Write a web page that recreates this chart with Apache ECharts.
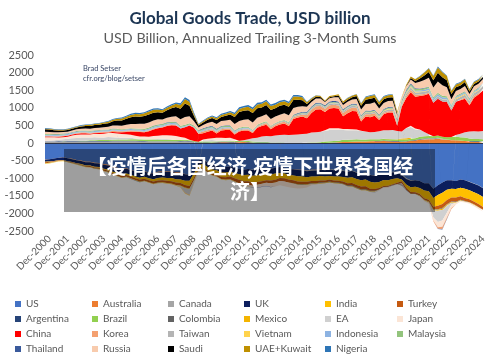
<!DOCTYPE html>
<html><head><meta charset="utf-8">
<script src="https://cdn.jsdelivr.net/npm/echarts@6/dist/echarts.min.js"></script>
<style>html,body{margin:0;padding:0;background:#fff}#c{width:500px;height:362px}</style>
</head><body><div id="c"></div>
<script>
// quarterly points: Sep-2000, Dec-2000, then Mar/Jun/Sep/Dec 2001..2024
const months = ['Mar','Jun','Sep','Dec'];
const quarters = ['Sep-2000','Dec-2000'];
for (let y = 2001; y <= 2024; y++) for (const m of months) quarters.push(m + '-' + y);

const yTicks = [-2500,-2000,-1500,-1000,-500,0,500,1000,1500,2000,2500];

const US = [-470,-460,
-440,-420,-400,-430,
-450,-480,-500,-530,
-530,-560,-570,-600,
-620,-680,-700,-740,
-720,-760,-800,-830,
-800,-840,-860,-820,
-800,-810,-800,-830,
-840,-880,-900,-720,
-480,-460,-540,-600,
-620,-680,-680,-660,
-700,-740,-760,-740,
-760,-740,-720,-700,
-720,-700,-680,-700,
-740,-740,-760,-760,
-780,-760,-760,-740,
-760,-740,-760,-760,
-780,-800,-780,-830,
-860,-840,-900,-920,
-880,-860,-860,-820,
-820,-880,-1000,-1060,
-1060,-1080,-1140,-1140,
-1300,-1200,-1120,-1060,
-1060,-1080,-1040,-1060,
-1100,-1150,-1200,-1280];

const Australia = [-5,-5,
0,0,-5,-5,
-10,-10,-10,-15,
-15,-15,-15,-20,
-20,-20,-15,-15,
-15,-10,-10,-10,
-10,-10,-10,-15,
-15,-15,-20,-20,
-15,-5,0,0,
-5,-5,0,5,
10,20,20,15,
15,20,25,15,
5,0,-5,-5,
-5,0,5,0,
0,-5,-5,-10,
-10,-10,-5,-5,
0,5,10,20,
30,30,35,40,
40,45,50,50,
50,55,50,45,
40,30,40,60,
70,90,100,110,
110,120,100,90,
80,80,70,60,
40,30,30,30];

const Canada = [45,45,
45,45,40,40,
40,40,35,35,
40,40,45,45,
45,50,50,50,
50,50,50,45,
45,40,40,40,
40,40,40,40,
45,50,40,20,
-5,-10,-10,-10,
-5,-5,-5,-5,
0,5,0,0,
-5,-5,-5,-5,
-5,-5,-5,-5,
0,0,0,-5,
-10,-15,-15,-15,
-15,-15,-15,-15,
-15,-15,-15,-15,
-15,-15,-10,-10,
-10,-10,-10,-10,
-10,-30,-20,-10,
0,10,15,15,
20,25,20,10,
5,0,0,0,
-5,-5,-5,-5];

const UK = [-60,-60,
-70,-70,-75,-80,
-80,-85,-90,-95,
-95,-100,-100,-110,
-115,-120,-130,-135,
-130,-135,-140,-145,
-150,-150,-160,-160,
-165,-170,-175,-180,
-180,-185,-175,-150,
-130,-125,-130,-140,
-150,-150,-155,-150,
-150,-145,-150,-160,
-165,-170,-165,-170,
-165,-160,-170,-165,
-165,-175,-180,-175,
-170,-165,-170,-175,
-180,-185,-180,-175,
-170,-175,-180,-175,
-180,-185,-190,-190,
-220,-180,-185,-190,
-170,-130,-160,-190,
-180,-200,-210,-230,
-260,-280,-290,-270,
-240,-230,-230,-240,
-240,-245,-250,-250];

const India = [-10,-10,
-10,-10,-10,-10,
-10,-10,-15,-15,
-15,-20,-20,-25,
-30,-35,-40,-45,
-45,-50,-50,-55,
-55,-60,-65,-70,
-75,-80,-90,-95,
-100,-120,-150,-120,
-100,-100,-110,-120,
-120,-130,-130,-140,
-150,-160,-180,-190,
-190,-190,-190,-180,
-170,-180,-140,-130,
-130,-140,-150,-150,
-130,-130,-130,-130,
-110,-100,-110,-120,
-130,-150,-160,-170,
-180,-190,-200,-190,
-170,-170,-160,-150,
-130,-50,-90,-130,
-160,-170,-220,-240,
-250,-300,-320,-290,
-250,-240,-240,-260,
-250,-260,-280,-280];

const Turkey = [-30,-25,
-15,-10,-10,-10,
-15,-15,-20,-20,
-25,-25,-30,-30,
-35,-40,-45,-45,
-45,-45,-50,-55,
-55,-55,-60,-60,
-60,-60,-65,-65,
-70,-75,-70,-60,
-40,-35,-35,-40,
-50,-60,-70,-75,
-90,-100,-105,-100,
-90,-80,-75,-70,
-75,-80,-85,-95,
-85,-80,-80,-80,
-70,-65,-60,-60,
-55,-55,-55,-55,
-60,-70,-75,-75,
-80,-85,-60,-50,
-40,-30,-25,-25,
-35,-50,-60,-50,
-40,-40,-40,-50,
-70,-100,-120,-120,
-110,-120,-100,-90,
-85,-80,-80,-80];

const Argentina = [5,5,
5,10,10,15,
15,15,15,15,
15,15,15,15,
12,12,12,12,
12,12,12,12,
12,12,12,12,
12,12,12,12,
12,15,15,15,
15,15,15,12,
12,12,12,12,
10,10,10,10,
12,12,12,12,
8,8,8,8,
5,5,5,5,
0,0,0,0,
0,2,2,2,
0,-2,-5,-5,
-5,-5,0,5,
10,15,15,15,
15,12,12,12,
12,15,15,12,
5,5,0,0,
-5,-5,-5,0,
15,20,20,20];

const Brazil = [-5,-5,
0,0,5,5,
10,10,15,15,
20,25,25,25,
30,33,35,35,
40,45,45,45,
45,45,45,45,
40,40,40,35,
25,25,20,20,
20,25,25,25,
20,20,20,20,
25,30,30,30,
25,20,20,20,
5,5,5,5,
0,-5,-5,-5,
5,15,15,20,
40,45,45,45,
60,65,65,65,
60,55,55,50,
45,45,45,45,
45,55,50,50,
50,60,60,60,
55,60,60,65,
85,95,95,95,
70,65,65,60];

const Colombia = [-2,-2,
-2,-2,-2,-2,
-2,-2,-2,-2,
-2,-2,-2,-2,
-2,-2,-2,-2,
-2,-2,-2,-2,
-2,-2,-2,-2,
-2,-2,-2,-2,
-2,-2,-2,-2,
0,0,0,0,
0,0,0,0,
0,0,0,0,
0,0,0,0,
0,0,0,0,
-5,-5,-5,-5,
-10,-10,-10,-10,
-10,-10,-10,-10,
-8,-8,-8,-8,
-8,-8,-10,-10,
-10,-10,-10,-10,
-8,-8,-8,-8,
-12,-12,-12,-12,
-15,-15,-15,-15,
-10,-10,-10,-10,
-8,-8,-8,-8];

const Mexico = [-10,-10,
-10,-10,-8,-8,
-8,-8,-8,-8,
-8,-8,-8,-8,
-8,-8,-8,-8,
-8,-8,-8,-8,
-8,-8,-8,-8,
-10,-10,-10,-10,
-15,-20,-20,-15,
-5,-5,-5,-5,
-5,-5,-5,-5,
-5,-5,-5,-5,
-2,-2,-2,-2,
-2,-2,-2,-2,
-5,-5,-5,-5,
-15,-15,-15,-15,
-15,-15,-15,-15,
-12,-12,-12,-12,
-15,-15,-15,-15,
0,5,5,5,
10,30,35,30,
0,-10,-15,-15,
-25,-30,-35,-30,
-20,-15,-15,-10,
-10,-10,-10,-10];

const EA = [10,20,
30,40,50,60,
70,80,90,90,
80,80,70,70,
80,70,60,50,
50,40,20,10,
0,0,10,20,
30,20,10,0,
-30,-120,-150,-60,
0,40,40,40,
30,20,20,30,
10,0,10,50,
90,120,150,170,
180,200,210,220,
220,230,240,250,
260,280,290,300,
300,320,310,300,
280,270,260,260,
240,230,200,210,
230,240,250,260,
230,200,280,300,
250,200,120,50,
-200,-320,-300,-200,
-50,50,100,150,
200,220,210,230];

const Japan = [100,90,
80,60,60,60,
80,90,90,90,
90,100,100,110,
120,120,110,110,
100,90,80,70,
80,80,90,90,
100,110,110,110,
90,60,20,-20,
-30,20,40,50,
80,80,70,70,
50,-40,-30,-40,
-60,-80,-80,-90,
-110,-110,-120,-130,
-130,-120,-100,-90,
-70,-30,-20,0,
20,50,50,50,
30,30,30,20,
10,0,-10,-20,
-20,-10,-20,-10,
-10,-40,10,40,
30,10,-20,-40,
-80,-150,-180,-130,
-100,-50,-30,-20,
-30,-40,-40,-30];

const China = [25,25,
20,25,30,25,
25,30,35,35,
20,25,30,35,
10,30,40,45,
60,90,110,130,
120,160,190,210,
220,260,290,300,
240,300,400,380,
220,180,200,220,
120,200,230,220,
130,260,280,250,
150,280,300,320,
200,260,300,320,
260,450,480,500,
440,560,650,640,
520,560,580,560,
360,450,520,520,
260,420,430,460,
320,460,500,500,
150,700,850,950,
900,950,1050,1150,
950,1050,1000,1000,
750,950,950,950,
750,950,1050,1150];

const Korea = [10,10,
10,10,10,10,
10,10,15,15,
15,15,20,20,
25,30,30,30,
25,25,25,25,
20,20,20,20,
15,15,15,15,
0,-10,-20,0,
30,45,45,40,
40,40,40,45,
30,30,30,35,
30,30,40,45,
45,45,45,50,
45,45,50,55,
90,90,90,90,
90,90,90,90,
90,100,100,95,
70,70,80,70,
40,40,40,40,
40,30,60,70,
60,40,30,30,
-20,-40,-60,-40,
-30,0,20,40,
40,50,40,50];

const Taiwan = [15,15,
15,15,15,15,
15,15,15,15,
15,15,15,15,
15,15,15,15,
20,20,20,20,
20,20,20,20,
20,20,20,20,
20,15,15,20,
25,25,25,25,
25,25,25,25,
25,25,25,25,
25,25,25,25,
30,30,30,30,
35,35,35,35,
40,40,40,40,
40,40,40,45,
45,45,45,45,
45,45,45,45,
45,45,45,50,
55,60,60,65,
65,65,65,65,
60,60,55,55,
65,70,70,75,
70,75,75,80];

const Vietnam = [-5,-5,
-5,-5,-5,-5,
-5,-5,-5,-5,
-5,-5,-5,-5,
-5,-5,-5,-5,
-5,-5,-5,-5,
-5,-5,-5,-5,
-10,-10,-10,-10,
-15,-15,-10,-10,
-10,-10,-10,-10,
-10,-10,-10,-10,
-5,-5,-5,-5,
0,0,0,0,
0,0,0,0,
0,0,0,0,
0,0,0,0,
5,10,10,10,
5,5,5,10,
10,10,10,10,
10,10,15,15,
15,20,25,25,
25,20,15,15,
10,10,10,15,
25,30,30,30,
25,25,25,25];

const Indonesia = [25,25,
25,25,25,25,
25,25,25,25,
25,25,25,25,
25,25,25,25,
25,25,25,25,
30,30,30,30,
30,30,30,30,
25,20,15,10,
15,20,20,20,
20,20,20,20,
25,25,25,20,
10,5,0,0,
0,0,0,0,
0,0,0,0,
5,5,10,10,
10,10,10,10,
10,10,10,10,
5,0,0,-5,
0,0,5,5,
10,15,20,25,
25,30,40,45,
50,55,55,50,
40,35,35,35,
30,30,30,30];

const Malaysia = [18,18,
18,18,18,18,
18,18,18,18,
20,20,20,20,
20,20,20,20,
25,25,25,25,
30,30,30,30,
30,30,30,30,
30,35,35,30,
30,30,30,30,
30,30,30,30,
28,28,28,28,
25,25,25,25,
22,22,22,22,
22,22,22,22,
22,22,22,22,
20,20,20,20,
22,22,22,22,
25,25,25,25,
30,30,30,30,
30,35,40,45,
45,45,45,45,
40,40,40,40,
30,30,30,30,
25,25,25,25];

const Thailand = [5,5,
5,5,5,5,
5,5,5,5,
5,5,5,5,
5,5,5,0,
-5,-5,-5,-5,
5,5,10,10,
10,10,10,10,
5,0,0,0,
15,20,20,20,
15,15,15,15,
10,5,0,0,
-5,-5,-5,-5,
-5,0,0,0,
10,15,20,20,
25,25,25,25,
30,30,30,30,
25,25,25,25,
20,20,20,20,
20,20,20,20,
25,30,30,25,
20,15,15,10,
0,-10,-15,-10,
0,5,5,5,
5,5,5,5];

const Russia = [60,55,
50,50,45,45,
45,50,50,55,
60,60,60,65,
75,85,95,100,
110,120,130,140,
140,140,145,150,
120,130,140,160,
180,220,200,120,
70,90,110,120,
140,140,140,160,
180,190,200,210,
210,200,190,200,
190,180,180,190,
190,190,180,160,
140,130,120,120,
90,90,100,120,
120,120,120,140,
170,190,200,210,
180,170,170,170,
120,80,90,110,
150,190,220,250,
280,320,300,260,
160,130,130,150,
120,120,110,110];

const Saudi = [70,70,
60,50,45,45,
50,55,60,70,
80,85,90,95,
100,120,140,150,
170,190,210,200,
220,230,220,200,
190,210,240,260,
300,380,300,150,
60,70,90,100,
110,120,130,150,
200,250,250,260,
270,270,250,260,
260,240,250,240,
240,230,200,170,
80,60,50,40,
20,30,30,50,
60,60,60,80,
100,120,140,130,
110,110,100,100,
50,-10,20,40,
60,90,130,160,
200,250,230,200,
150,110,100,110,
70,60,60,60];

const UAE = [20,20,
20,20,20,20,
20,20,25,25,
30,30,35,35,
40,45,50,55,
60,65,70,70,
75,80,80,75,
70,75,80,90,
110,130,110,60,
30,35,40,45,
50,55,60,65,
80,90,95,100,
110,110,100,110,
110,100,100,100,
100,100,90,80,
50,40,35,30,
25,30,30,35,
40,40,45,50,
60,70,80,80,
70,70,70,70,
50,20,30,40,
50,60,80,100,
120,150,140,120,
90,80,80,80,
60,55,55,55];

const Nigeria = [15,15,
15,15,15,15,
15,15,15,15,
15,15,15,20,
20,25,25,30,
30,35,35,35,
35,35,35,35,
35,35,35,40,
45,50,50,40,
20,25,25,30,
30,35,35,35,
40,45,45,45,
45,45,45,45,
45,45,45,45,
45,45,40,35,
15,10,10,5,
0,0,0,0,
5,10,10,10,
15,20,20,20,
20,20,20,15,
5,-5,-5,0,
5,10,10,15,
20,25,20,15,
15,15,15,15,
15,20,20,20];

const countries = [
  ['US', US, '#4472c4'],
  ['Australia', Australia, '#ed7d31'],
  ['Canada', Canada, '#a5a5a5'],
  ['UK', UK, '#0c1f5e'],
  ['India', India, '#ffc000'],
  ['Turkey', Turkey, '#c55a11'],
  ['Argentina', Argentina, '#264478'],
  ['Brazil', Brazil, '#92d050'],
  ['Colombia', Colombia, '#636363'],
  ['Mexico', Mexico, '#f4b400'],
  ['EA', EA, '#d0d0d0'],
  ['Japan', Japan, '#fbe5d6'],
  ['China', China, '#ff0000'],
  ['Korea', Korea, '#f4a070'],
  ['Taiwan', Taiwan, '#b4b4b4'],
  ['Vietnam', Vietnam, '#ffd34d'],
  ['Indonesia', Indonesia, '#8db3e2'],
  ['Malaysia', Malaysia, '#93c47d'],
  ['Thailand', Thailand, '#3a5a9c'],
  ['Russia', Russia, '#f8cbad'],
  ['Saudi', Saudi, '#000000'],
  ['UAE+Kuwait', UAE, '#bf9000'],
  ['Nigeria', Nigeria, '#2e75b6']
];

const legendCols = [
  ['US','Argentina','China','Thailand'],
  ['Australia','Brazil','Korea','Russia'],
  ['Canada','Colombia','Taiwan','Saudi'],
  ['UK','Mexico','Vietnam','UAE+Kuwait'],
  ['India','EA','Indonesia','Nigeria'],
  ['Turkey','Japan','Malaysia']
];
const legendLeft = [15, 92, 168, 244, 325, 397];

const series = [];
countries.forEach(function (c) {
  const base = {
    name: c[0], type: 'line', stack: 'total', symbol: 'none', showSymbol: false,
    lineStyle: { width: 0 }, itemStyle: { color: c[2] },
    areaStyle: { color: c[2], opacity: 1 }, emphasis: { disabled: true }, silent: true
  };
  // split into same-sign parts so each side stacks cleanly
  series.push(Object.assign({}, base, { data: c[1].map(v => v > 0 ? v : 0) }));
  series.push(Object.assign({}, base, { data: c[1].map(v => v < 0 ? v : -1e-9) }));
});
series[series.length - 1].markLine = {
  silent: true, symbol: ['none', 'none'], label: { show: false },
  lineStyle: { color: '#2d3448', width: 1.2, type: 'solid' },
  data: [{ yAxis: 0 }]
};

const chart = echarts.init(document.getElementById('c'), null, { renderer: 'canvas' });
chart.setOption({
  animation: false,
  textStyle: { fontFamily: 'Lato, sans-serif' },
  title: [
    { text: 'Global Goods Trade, USD billion', left: 'center', top: 5,
      textStyle: { fontSize: 17, fontWeight: 'bold', color: '#1c3553', fontFamily: 'Lato' } },
    { text: 'USD Billion, Annualized Trailing 3-Month Sums', left: 'center', top: 26,
      textStyle: { fontSize: 14.3, fontWeight: 'normal', color: '#595959', fontFamily: 'Lato' } }
  ],
  legend: legendCols.map(function (col, k) {
    return {
      data: col, orient: 'vertical', left: legendLeft[k], top: 298,
      icon: 'rect', itemWidth: 6, itemHeight: 6, itemGap: 3, padding: 0,
      selectedMode: false,
      textStyle: { fontSize: 10, color: '#595959', lineHeight: 12, fontFamily: 'Lato' }
    };
  }),
  grid: { left: 45, right: 17, top: 55, bottom: 131 },
  xAxis: {
    type: 'category', data: quarters, boundaryGap: false,
    axisLine: { show: false }, axisTick: { show: false },
    axisLabel: {
      interval: function (i) { return i % 4 === 1; },
      rotate: 45, fontSize: 10, color: '#595959', margin: 6, fontFamily: 'Lato'
    },
    splitLine: { show: false }
  },
  yAxis: {
    type: 'value', min: yTicks[0], max: yTicks[yTicks.length - 1], interval: 500,
    axisLine: { show: false }, axisTick: { show: false }, splitLine: { show: false },
    axisLabel: { fontSize: 11, color: '#595959', margin: 11, fontFamily: 'Lato',
      formatter: function (v) { return String(v); } }
  },
  series: series,
  graphic: [
    { type: 'text', left: 83, top: 64, z: 50,
      style: { text: 'Brad Setser\ncfr.org/blog/setser', fontSize: 7.5, lineHeight: 9.5, fill: '#3a4766', fontFamily: 'Lato' } },
    { type: 'rect', z: 100, shape: { x: 64, y: 149, width: 371, height: 63 },
      style: { fill: 'rgba(0,0,0,0.38)' } },
    { type: 'text', z: 101, x: 250, y: 154,
      style: { text: '【疫情后各国经济,疫情下世界各国经\n济】', fill: '#ffffff',
        font: 'bold 20px "Noto Sans CJK SC"', textAlign: 'center', lineHeight: 25 } }
  ]
});
</script>
</body></html>
